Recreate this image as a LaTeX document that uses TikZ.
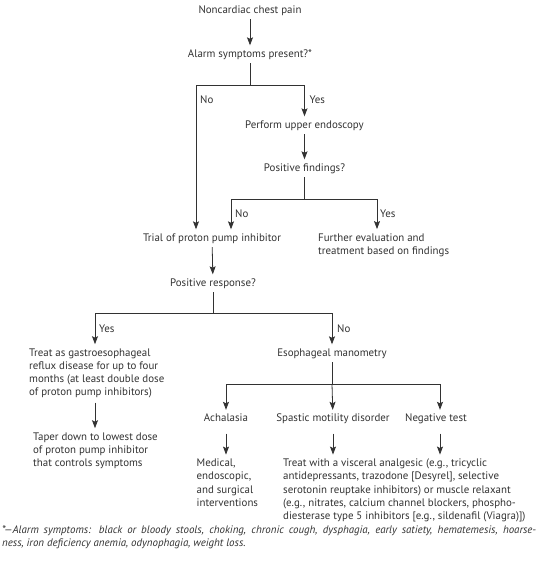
\documentclass[tikz,border=0pt]{standalone}
\usepackage{fontspec}
\setmainfont{PT Sans}
\definecolor{FlowGray}{RGB}{50,50,50}
\usetikzlibrary{arrows.meta, positioning}

\begin{document}
\begin{tikzpicture}[x=1pt, y=-1pt, font=\fontsize{10.9}{13.3}\selectfont,
	txt/.style={inner xsep=0pt, inner ysep=4pt, text=FlowGray, anchor=base,
		text height=7.5pt, text depth=2pt},
	blk/.style={inner xsep=0pt, inner ysep=4pt, text=FlowGray, align=left, anchor=base west},
	lab/.style={inner sep=0pt, text=FlowGray, anchor=base west},
	ln/.style={draw=FlowGray, line width=0.8pt},
	arr/.style={ln, -{Stealth[length=8pt, width=6pt, inset=1.5pt]}}]
	\useasboundingbox (0,0) rectangle (540,562);

	% steps (multi-line blocks sit on the baseline of their last line)
	\node[txt] (start) at (250,13) {Noncardiac chest pain};
	\node[txt] (alarm) at (250,57) {Alarm symptoms present?*};
	\node[txt] (endo) at (304.5,128) {Perform upper endoscopy};
	\node[txt] (find) at (304.5,171) {Positive findings?};
	\node[txt] (trial) at (212,241) {Trial of proton pump inhibitor};
	\node[blk] (further) at (318,254.3) {Further evaluation and\\treatment based on findings};
	\node[txt] (resp) at (213,286) {Positive response?};
	\node[blk] (gerd) at (29,395.9) {Treat as gastroesophageal\\reflux disease for up to four\\months (at least double dose\\of proton pump inhibitors)};
	\node[txt] (mano) at (332,356) {Esophageal manometry};
	\node[blk] (taper) at (33,466.6) {Taper down to lowest dose\\of proton pump inhibitor\\that controls symptoms};
	\node[txt] (achal) at (226,421.5) {Achalasia};
	\node[txt] (spastic) at (333,421.5) {Spastic motility disorder};
	\node[txt] (neg) at (436,421.5) {Negative test};
	\node[blk] (interv) at (196.5,506.4) {Medical,\\endoscopic,\\and surgical\\interventions};
	\node[blk] (visc) at (283,519.7) {Treat with a visceral analgesic (e.g., tricyclic\\antidepressants, trazodone [Desyrel], selective\\serotonin reuptake inhibitors) or muscle relaxant\\(e.g., nitrates, calcium channel blockers, phospho-\\diesterase type 5 inhibitors [e.g., sildenafil (Viagra)])};
	\node[blk, font=\fontsize{10.9}{13.3}\selectfont\itshape] (note) at (2,546.8) {\hbox to 534pt{*---Alarm symptoms: black or bloody stools, choking, chronic cough, dysphagia, early satiety, hematemesis, hoarse-}\\ness, iron deficiency anemia, odynophagia, weight loss.};

	% branch points
	\coordinate (alarmsplit) at (250,85);
	\coordinate (alarmno) at (196,85);
	\coordinate (findsplit) at (304.5,199);
	\coordinate (findno) at (231,199);
	\coordinate (findyes) at (377,199);
	\coordinate (respsplit) at (213,313);
	\coordinate (respyes) at (95,313);
	\coordinate (respno) at (332,313);
	\coordinate (manosplit) at (332,384);
	\coordinate (manoleft) at (226,384);
	\coordinate (manoright) at (440,384);

	% connectors
	\draw[arr] (start) -- (alarm);
	\draw[ln] (alarm) -- (alarmsplit);
	\draw[arr] (alarmsplit) -| (endo);
	\draw[arr] (alarmsplit) -- (alarmno) -- (alarmno |- trial.north);
	\draw[arr] (endo) -- (find);
	\draw[ln] (find) -- (findsplit);
	\draw[ln] (findno) -- (findyes);
	\draw[arr] (findno) -- (findno |- trial.north);
	\draw[arr] (findyes) -- (findyes |- further.north);
	\draw[arr] (trial) -- (resp);
	\draw[ln] (resp) -- (respsplit);
	\draw[ln] (respyes) -- (respno);
	\draw[arr] (respyes) -- (respyes |- gerd.north);
	\draw[arr] (respno) -- (mano);
	\draw[arr] (gerd.south -| respyes) -- (taper.north -| respyes);
	\draw[ln] (mano) -- (manosplit);
	\draw[ln] (manoleft) -- (manoright);
	\draw[arr] (manoleft) -- (achal);
	\draw[arr] (manosplit) -- (spastic);
	\draw[arr] (manoright) -- (manoright |- neg.north);
	\draw[arr, shorten <=6pt] (achal) -- (achal |- interv.north);
	\draw[arr, shorten <=6pt] (spastic) -- (spastic |- visc.north);
	\draw[arr, shorten <=6pt] (manoright |- neg.south) -- (manoright |- visc.north);

	% branch labels
	\node[lab] (alarmnolab) at (200,103) {No};
	\node[lab] (alarmyeslab) at (309.5,103) {Yes};
	\node[lab] (findnolab) at (235,217) {No};
	\node[lab] (findyeslab) at (380,217) {Yes};
	\node[lab] (respyeslab) at (99,332) {Yes};
	\node[lab] (respnolab) at (337,332) {No};
\end{tikzpicture}
\end{document}
